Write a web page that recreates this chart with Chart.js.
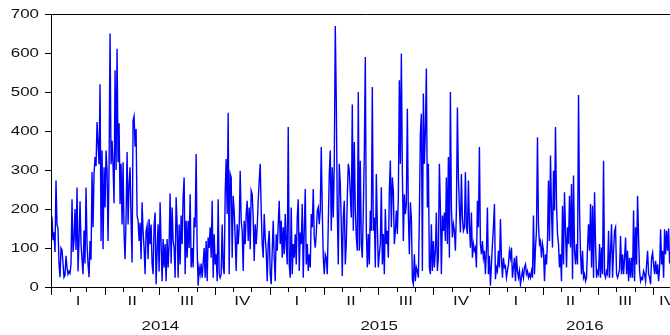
<!DOCTYPE html>
<html>
<head>
<meta charset="utf-8">
<script src="https://cdn.jsdelivr.net/npm/chart.js@4.4.1/dist/chart.umd.min.js"></script>
<style>
  html, body { margin: 0; padding: 0; background: #fff; overflow: hidden; }
  #wrap { width: 670px; height: 335px; overflow: hidden; }
</style>
</head>
<body>
<div id="wrap"><canvas id="chart" width="682" height="335"></canvas></div>
<script>
// daily series, sampled about every 1.67 days, Jan 2014 .. late Oct 2016
const valsJan14Jul14 = [
  100,180,120,140,90,273,160,150,60,25,
  100,95,60,25,30,80,50,33,40,35,
  60,225,90,120,200,95,255,40,120,220,
  110,70,33,145,60,255,110,60,25,118,
  70,295,153,290,333,310,423,367,315,520,
  118,350,97,307,204,350,300,118,307,650,
  315,375,310,215,556,300,611,320,420,213,
  316,160,320,135,71,180,346,160,264,307,
  170,63,427,438,360,405,183,170,118,165,
  71,217,140,100,33,144,157,71,174,110,
  160,60,33,157,191,7,93,161,40,217,
  110,15,123,50,110,15,123,50,110,240,
  60,204,118,100
];
const valsJul14Feb15 = [
  24,230,160,24,160,58,183,110,230,281,
  33,170,75,170,100,238,50,100,50,178,
  153,341,100,3,50,33,60,24,60,100,
  24,118,15,127,100,153,75,221,24,135,
  58,84,15,225,33,24,33,160,50,33,
  238,328,187,447,33,290,281,75,234,195,
  127,41,161,110,153,298,170,144,41,170,
  110,187,221,118,204,97,247,238,178,67,
  161,110,153,221,273,316,195,110,75,187,
  127,93,15,110,144,33,7,93,170,75,
  15,135,93,161,221,110,170,75,153,84,
  187,110,58,410,58,24,204,33,110,75,
  135,58,178
];
const valsFeb15Sep15 = [
  225,41,140,110,213,24,144,251,58,110,
  41,84,50,187,153,251,127,101,136,195,
  204,161,196,359,196,75,33,84,75,33,
  161,290,350,144,307,178,316,669,479,196,
  58,316,264,161,28,178,221,58,110,230,
  316,298,238,178,468,144,372,196,127,93,
  500,93,324,110,75,196,341,590,144,50,
  136,58,196,144,513,144,178,50,290,161,
  50,84,110,256,58,136,33,200,110,144,
  75,247,324,153,281,247,110,144,196,136,
  230,530,316,599,298,118,238,187,213,457,
  187,84,217,178,20,7,84,15,50,41,
  24,178,393
];
const valsSep15Apr16 = [
  444,41,496,316,400,560,204,316,50,33,
  161,41,118,50,93,191,41,75,316,204,
  33,183,144,191,118,281,110,333,75,500,
  204,127,161,144,93,196,460,281,204,140,
  290,178,144,153,294,153,136,273,161,101,
  191,75,110,93,101,50,221,153,359,110,
  84,118,75,93,33,93,204,33,80,3,
  58,110,153,213,20,50,41,93,50,174,
  75,24,75,50,54,24,41,58,93,75,
  101,24,50,75,15,80,41,24,41,7,
  24,41,24,50,58,33,41,24,33,24,
  41,24,183,33,101,144,384,161,110,118,
  75,110,93
];
const valsApr16Oct16 = [
  15,84,58,118,273,118,337,196,101,298,
  196,410,213,136,110,50,84,15,208,58,
  243,144,50,153,110,234,101,264,20,286,
  93,58,110,58,492,196,84,33,93,24,
  33,15,24,101,161,93,213,50,208,24,
  243,110,24,41,33,110,24,101,33,324,
  33,24,41,33,144,24,93,161,24,93,
  144,153,33,24,33,45,131,33,84,33,
  75,127,33,93,15,75,24,75,24,196,
  15,153,58,234,127,41,15,24,20,41,
  33,15,58,93,33,24,7,75,88,58,
  33,67,33,58,15,50,148,58,93,24,
  148,84,144,93,150,60
];

const yTicks = [0, 100, 200, 300, 400, 500, 600, 700];
const quarterLabels = ['I', 'II', 'III', 'IV'];
const yearLabels = ['2014', '2015', '2016'];

const DAY = 86400000;
const START = Date.UTC(2014, 0, 1);
const DATA_END = Date.UTC(2016, 9, 29);
const AXIS_END = Date.UTC(2016, 10, 17);
const dayOf = (y, m) => (Date.UTC(y, m, 1) - START) / DAY;

const series = [].concat(valsJan14Jul14, valsJul14Feb15, valsFeb15Sep15, valsSep15Apr16, valsApr16Oct16);
const step = ((DATA_END - START) / DAY) / (series.length - 1);
const points = series.map((v, i) => ({ x: i * step, y: v }));

function stretchText(ctx, str, x, y, align) {
  ctx.save();
  ctx.translate(x, y);
  ctx.scale(1.3, 1);
  ctx.textAlign = align;
  ctx.fillText(str, 0, 0);
  ctx.restore();
}

const axisDecor = {
  id: 'axisDecor',
  afterDraw(chart) {
    const { ctx, chartArea: a, scales } = chart;
    const xs = scales.x, ys = scales.y;
    ctx.save();
    ctx.strokeStyle = '#000';
    ctx.lineWidth = 1;
    ctx.beginPath();
    ctx.moveTo(a.right, a.top + 0.5); ctx.lineTo(a.left + 0.5, a.top + 0.5);
    ctx.lineTo(a.left + 0.5, a.bottom + 0.5); ctx.lineTo(a.right, a.bottom + 0.5);
    ctx.stroke();

    ctx.fillStyle = '#111';
    ctx.font = '13px "Liberation Sans", Arial, sans-serif';
    ctx.textBaseline = 'middle';

    // y ticks
    yTicks.forEach(v => {
      const py = Math.round(ys.getPixelForValue(v)) + 0.5;
      ctx.beginPath();
      ctx.moveTo(a.left - 6, py); ctx.lineTo(a.left + 0.5, py);
      ctx.stroke();
      stretchText(ctx, String(v), a.left - 12, py, 'right');
    });

    // month and quarter ticks
    for (let k = 0; k < 36; k++) {
      const d = dayOf(2014 + Math.floor(k / 12), k % 12);
      const px = Math.round(xs.getPixelForValue(d)) + 0.5;
      if (px < a.left || px > a.right) continue;
      const len = k % 3 === 0 ? 8 : 5;
      ctx.beginPath();
      ctx.moveTo(px, a.bottom); ctx.lineTo(px, a.bottom + len);
      ctx.stroke();
    }

    // quarter labels
    for (let k = 0; k < 12; k++) {
      const y = 2014 + Math.floor(k / 4), q = k % 4;
      const p0 = Math.max(xs.getPixelForValue(dayOf(y, q * 3)), a.left);
      const p1 = Math.min(xs.getPixelForValue(dayOf(y, q * 3 + 3)), a.right);
      if (p1 <= p0) continue;
      stretchText(ctx, quarterLabels[q], (p0 + p1) / 2, 301, 'center');
    }

    // year labels
    yearLabels.forEach((lab, i) => {
      const p0 = Math.max(xs.getPixelForValue(dayOf(2014 + i, 0)), a.left);
      const p1 = Math.min(xs.getPixelForValue(dayOf(2015 + i, 0)), a.right);
      stretchText(ctx, lab, (p0 + p1) / 2, 326, 'center');
    });
    ctx.restore();
  }
};

new Chart(document.getElementById('chart'), {
  type: 'line',
  data: {
    datasets: [{
      data: points,
      borderColor: '#0000ff',
      borderWidth: 1.4,
      pointRadius: 0,
      tension: 0,
      fill: false
    }]
  },
  options: {
    responsive: false,
    animation: false,
    devicePixelRatio: 1,
    layout: { padding: { top: 14, right: 1, left: 0, bottom: 0 } },
    plugins: { legend: { display: false }, tooltip: { enabled: false } },
    scales: {
      x: {
        type: 'linear',
        min: 0,
        max: (AXIS_END - START) / DAY,
        grid: { display: false },
        border: { display: false },
        ticks: { display: false },
        afterFit: s => { s.height = 48; }
      },
      y: {
        min: 0,
        max: 700,
        grid: { display: false },
        border: { display: false },
        ticks: { display: false },
        afterFit: s => { s.width = 51; }
      }
    }
  },
  plugins: [axisDecor]
});
</script>
</body>
</html>
